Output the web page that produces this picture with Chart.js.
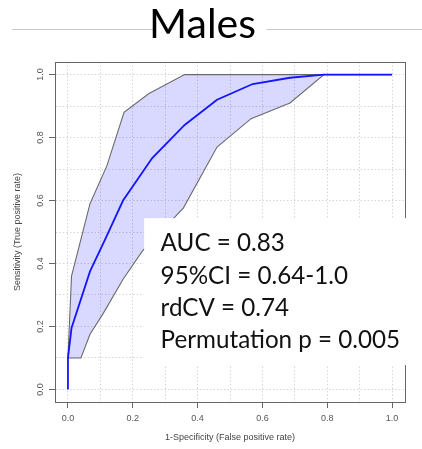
<!DOCTYPE html>
<html>
<head>
<meta charset="utf-8">
<script src="https://cdn.jsdelivr.net/npm/chart.js@4.4.1/dist/chart.umd.min.js"></script>
<style>
  html, body { margin: 0; padding: 0; background: #fff; }
  #wrap { width: 422px; height: 449px; position: relative; }
</style>
</head>
<body>
<div id="wrap"><canvas id="c" width="422" height="449"></canvas></div>
<script>
// ---- data ----
const titleText = 'Males';
const xTitle = '1-Specificity (False positive rate)';
const yTitle = 'Sensitivity (True positive rate)';

const meanX = [0, 0, 0.011, 0.068, 0.114, 0.17, 0.26, 0.36, 0.46, 0.57, 0.685, 0.79, 1.0];
const meanY = [0, 0.1, 0.195, 0.375, 0.475, 0.6, 0.735, 0.84, 0.92, 0.97, 0.99, 1.0, 1.0];

const upperX = [0, 0.011, 0.068, 0.12, 0.173, 0.25, 0.36, 1.0];
const upperY = [0.1, 0.36, 0.59, 0.71, 0.88, 0.94, 1.0, 1.0];

const lowerX = [0, 0.04, 0.068, 0.108, 0.17, 0.23, 0.356, 0.46, 0.565, 0.685, 0.79, 1.0];
const lowerY = [0.1, 0.1, 0.175, 0.24, 0.35, 0.44, 0.576, 0.77, 0.86, 0.91, 1.0, 1.0];

const tickValues = [0, 0.2, 0.4, 0.6, 0.8, 1.0];
const tickLabels = ['0.0', '0.2', '0.4', '0.6', '0.8', '1.0'];
const gridValues = [0, 0.1, 0.2, 0.3, 0.4, 0.5, 0.6, 0.7, 0.8, 0.9, 1.0];

const statLines = ['AUC = 0.83', '95%CI = 0.64-1.0', 'rdCV = 0.74', 'Permutation p = 0.005'];
// annotation box extent in data units (x0, x1, yTop, yBottom)
const boxX = [0.235, 1.057];
const boxY = [0.544, 0.0775];

// ---- build ----
const meanPts = meanX.map((x, i) => ({x, y: meanY[i]}));
const bandPts = upperX.map((x, i) => ({x, y: upperY[i]}))
  .concat(lowerX.map((x, i) => ({x, y: lowerY[i]})).reverse());

function labelFor(v) {
  const i = tickValues.findIndex(t => Math.abs(t - v) < 1e-6);
  return i >= 0 ? tickLabels[i] : '';
}
function tickCol(ctx) {
  return labelFor(ctx.tick ? ctx.tick.value : NaN) !== '' ? '#666' : 'rgba(0,0,0,0)';
}

const decor = {
  id: 'decor',
  beforeDraw(chart) {
    const ctx = chart.ctx;
    ctx.save();
    ctx.strokeStyle = '#c8c8c8';
    ctx.lineWidth = 1;
    ctx.beginPath();
    ctx.moveTo(12, 29.5);
    ctx.lineTo(422, 29.5);
    ctx.stroke();
    ctx.font = '41px Lato';
    const w = ctx.measureText(titleText).width;
    ctx.fillStyle = '#fff';
    ctx.fillRect(211 - w / 2 - 2, 20, w + 4, 20);
    ctx.restore();
  },
  afterDatasetsDraw(chart) {
    const {ctx, chartArea: a} = chart;
    ctx.save();
    ctx.strokeStyle = '#666';
    ctx.lineWidth = 1;
    ctx.strokeRect(Math.round(a.left) + 0.5, Math.round(a.top) + 0.5,
      Math.round(a.right - a.left), Math.round(a.bottom - a.top));
    ctx.restore();
  },
  afterDraw(chart) {
    const ctx = chart.ctx;
    const xs = chart.scales.x, ys = chart.scales.y;
    ctx.save();
    // y tick labels, rotated like R
    ctx.fillStyle = '#555';
    ctx.font = '9px "Liberation Sans", Arial, sans-serif';
    ctx.textAlign = 'center';
    ctx.textBaseline = 'middle';
    tickValues.forEach((v, i) => {
      const py = ys.getPixelForValue(v);
      ctx.save();
      ctx.translate(40.5, py);
      ctx.rotate(-Math.PI / 2);
      ctx.fillText(tickLabels[i], 0, 0);
      ctx.restore();
    });
    // annotation box
    const x0 = xs.getPixelForValue(boxX[0]), x1 = xs.getPixelForValue(boxX[1]);
    const y0 = ys.getPixelForValue(boxY[0]), y1 = ys.getPixelForValue(boxY[1]);
    ctx.fillStyle = '#fff';
    ctx.fillRect(x0, y0, x1 - x0, y1 - y0);
    ctx.fillStyle = '#111';
    ctx.font = '24.2px Lato';
    ctx.textAlign = 'left';
    ctx.textBaseline = 'alphabetic';
    statLines.forEach((t, i) => ctx.fillText(t, x0 + 16.5, y0 + 33 + i * 32.4));
    ctx.restore();
  }
};

const gridOpts = {
  color: '#d6d6d6',
  lineWidth: 1,
  drawTicks: true,
  tickLength: 6,
  tickColor: tickCol,
  tickBorderDash: [],
  tickWidth: 1
};
const borderOpts = { display: true, color: '#666', width: 1, dash: [1.5, 2] };

new Chart(document.getElementById('c'), {
  type: 'scatter',
  data: {
    datasets: [
      {
        label: 'mean',
        data: meanPts,
        showLine: true,
        borderColor: 'rgb(20,20,255)',
        borderWidth: 1.8,
        pointRadius: 0,
        fill: false,
        tension: 0,
        order: 0
      },
      {
        label: 'band',
        data: bandPts,
        showLine: true,
        borderColor: '#6a6a6a',
        borderWidth: 1.1,
        backgroundColor: 'rgba(0,0,255,0.15)',
        pointRadius: 0,
        fill: 'shape',
        tension: 0,
        order: 1
      }
    ]
  },
  options: {
    responsive: false,
    animation: false,
    events: [],
    layout: { padding: { top: 0, right: 17, bottom: 0, left: 0 } },
    plugins: {
      legend: { display: false },
      tooltip: { enabled: false },
      title: {
        display: true,
        text: titleText,
        color: '#000',
        font: { family: 'Lato', size: 41, weight: 'normal', lineHeight: 1.2 },
        padding: { top: 0, bottom: 12.8 }
      }
    },
    scales: {
      x: {
        type: 'linear',
        min: -0.04, max: 1.04,
        afterBuildTicks(s) { s.ticks = gridValues.map(v => ({value: v})); },
        afterFit(s) { s.height = 47; },
        ticks: {
          autoSkip: false,
          maxRotation: 0,
          padding: 5,
          color: '#555',
          font: { family: '"Liberation Sans", Arial, sans-serif', size: 9 },
          callback: v => labelFor(v)
        },
        grid: gridOpts,
        border: borderOpts,
        title: {
          display: true, text: xTitle, color: '#444',
          font: { family: '"Liberation Sans", Arial, sans-serif', size: 9, lineHeight: 1.2 },
          padding: { top: 0, bottom: 5.6 }
        }
      },
      y: {
        type: 'linear',
        min: -0.04, max: 1.04,
        afterBuildTicks(s) { s.ticks = gridValues.map(v => ({value: v})); },
        afterFit(s) { s.width = 55; },
        ticks: { display: false },
        grid: gridOpts,
        border: borderOpts,
        title: {
          display: true, text: yTitle, color: '#444',
          font: { family: '"Liberation Sans", Arial, sans-serif', size: 9, lineHeight: 1.2 },
          padding: { top: 12.6, bottom: 0 }
        }
      }
    }
  },
  plugins: [decor]
});
</script>
</body>
</html>
